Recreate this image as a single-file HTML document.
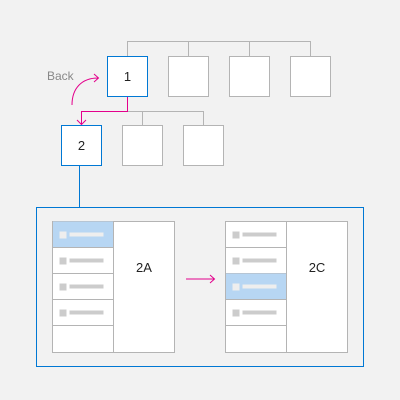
<!DOCTYPE html><html><head><style>body{margin:0;background:#f2f2f2}svg{display:block;font-family:"Liberation Sans",sans-serif}</style></head><body>
<svg width="400" height="400">
<rect width="400" height="400" fill="#f2f2f2"/>
<g stroke="#b4b4b4" fill="none">
<path d="M127.5 56V41.5H310.5V56M188.5 41.5V56M249.5 41.5V56"/>
<path d="M127.5 111.5H203.5V125M142.5 111.5V125"/>
</g>
<g stroke="#b4b4b4" fill="#fff">
<rect x="168.5" y="56.5" width="40" height="40"/><rect x="229.5" y="56.5" width="40" height="40"/><rect x="290.5" y="56.5" width="40" height="40"/>
<rect x="122.5" y="125.5" width="40" height="40"/><rect x="183.5" y="125.5" width="40" height="40"/>
</g>
<path d="M127.5 96V111.5H81.5V124" stroke="#e3008c" fill="none"/>
<path d="M77 120L81.5 124.5L86 120" stroke="#e3008c" fill="none"/>
<path d="M72 105C72 88 82 78 98 78M94 74L98.5 78L94 82" stroke="#e3008c" fill="none"/>
<text x="47" y="80" font-size="12" fill="#888">Back</text>
<rect x="107.5" y="56.5" width="40" height="40" fill="#fff" stroke="#0078d4"/>
<text x="127.5" y="81" font-size="13" text-anchor="middle" fill="#222">1</text>
<rect x="61.5" y="125.5" width="40" height="40" fill="#fff" stroke="#0078d4"/>
<text x="81.5" y="150" font-size="13" text-anchor="middle" fill="#222">2</text>
<path d="M79.5 166V207" stroke="#0078d4"/>
<rect x="36.5" y="207.5" width="327" height="159" fill="#f2f2f2" stroke="#0078d4"/>
<g id="pa"></g>
<g id="pc"></g>
<path d="M186 279H214M210 275L214.5 279L210 283" stroke="#e3008c" fill="none"/>
</svg>
<script>
function panel(g,x,sel,label){
 const ns='http://www.w3.org/2000/svg';
 let h='';
 h+=`<rect x="${x+.5}" y="221.5" width="122" height="131" fill="#fff" stroke="#b4b4b4"/>`;
 h+=`<path d="M${x+61.5} 221.5V352.5" stroke="#b4b4b4"/>`;
 for(let i=0;i<4;i++){const y=221.5+i*26;
  if(i==sel)h+=`<rect x="${x+1}" y="${y}" width="60" height="26" fill="#b7d6f3"/>`;
  h+=`<path d="M${x+.5} ${y+26}H${x+61.5}" stroke="#b4b4b4"/>`;
  const c=i==sel?'#eee':'#ccc';
  h+=`<rect x="${x+7.5}" y="${y+10}" width="7" height="7" fill="${c}"/><rect x="${x+17.5}" y="${y+11}" width="34" height="4" fill="${c}"/>`;}
 h+=`<text x="${x+92}" y="272" font-size="13" text-anchor="middle" fill="#222">${label}</text>`;
 g.innerHTML=h;
}
panel(document.getElementById('pa'),52,0,'2A');
panel(document.getElementById('pc'),225,2,'2C');
</script>
</body></html>
